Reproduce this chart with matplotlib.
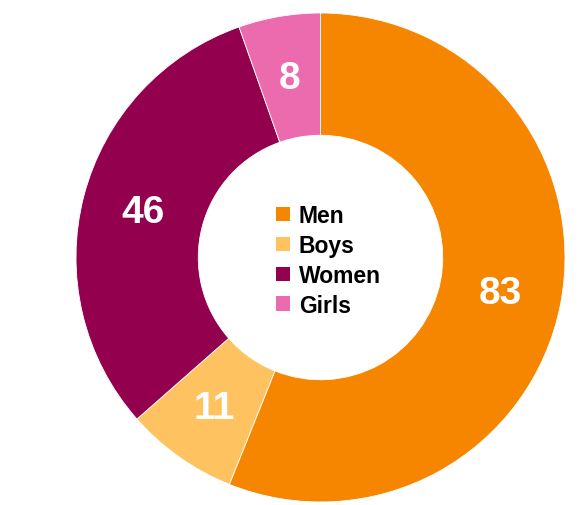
import matplotlib
matplotlib.use("Agg")
import matplotlib.pyplot as plt
from matplotlib.patches import Patch
import numpy as np

categories = ["Men", "Boys", "Women", "Girls"]
values = [83, 11, 46, 8]
colors = ["#F68500", "#FEC360", "#92004E", "#EC6BAE"]

W, H = 582, 506
fig = plt.figure(figsize=(W / 100, H / 100), dpi=100)
ax = fig.add_axes([0, 0, 1, 1])

cx, cy, R = 320.5, H - 258.5, 244.5
wedges, texts = ax.pie(
    values, colors=colors, startangle=90, counterclock=False,
    center=(cx, cy), radius=R,
    wedgeprops=dict(width=R * 0.5, edgecolor="white", linewidth=0.6),
)
total = sum(values)
ang = 90.0
for v, w in zip(values, wedges):
    span = v / total * 360
    mid = np.deg2rad(ang - span / 2)
    ang -= span
    r = R * 0.75
    ax.text(cx + r * np.cos(mid), cy + r * np.sin(mid) - 1, str(v),
            ha="center", va="center", color="white", fontsize=28,
            fontweight="bold", family="Liberation Sans")

ax.set_xlim(0, W)
ax.set_ylim(0, H)
ax.set_aspect("equal")
ax.axis("off")

handles = [Patch(facecolor=c, edgecolor="none") for c in colors]
leg = ax.legend(handles, categories, loc="center",
                bbox_to_anchor=((cx + 8) / W, (cy - 3) / H), bbox_transform=fig.transFigure,
                frameon=False, handlelength=0.6, handleheight=0.6,
                handletextpad=0.4, labelspacing=0.3,
                prop=dict(family="Liberation Sans", weight="bold", size=16.5))

fig.savefig("out.png", dpi=100, facecolor="white")
